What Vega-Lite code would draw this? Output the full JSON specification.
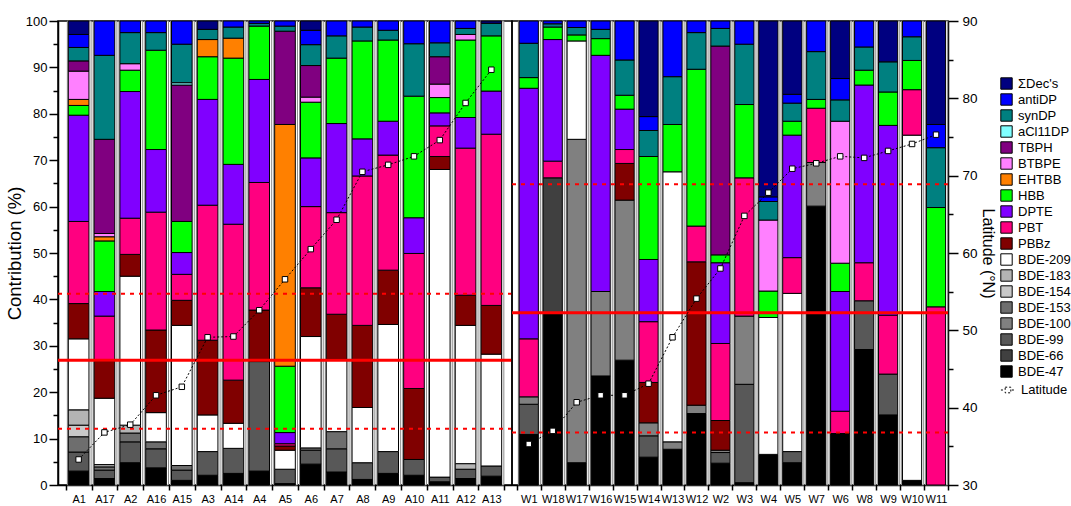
{
"$schema": "https://vega.github.io/schema/vega-lite/v6.json",
"padding": {"left": 4, "top": 13, "right": 0, "bottom": 0},
"background": "white",
"spacing": 0,
"bounds": "flush",
"config": {
 "font": "Liberation Sans",
 "view": {"stroke": "black", "strokeWidth": 1.5},
 "axis": {"domainColor": "black", "domainWidth": 1.5, "tickColor": "black", "tickWidth": 1.5, "labelColor": "black", "titleColor": "black", "grid": false, "titleFontWeight": "normal", "labelOverlap": false, "labelFlush": false},
 "legend": {"labelFontSize": 13, "labelColor": "black", "symbolStrokeColor": "black", "symbolStrokeWidth": 1, "symbolSize": 130, "rowPadding": -1, "padding": 0, "labelOffset": 5}
},
"datasets": {
 "comps": [
  {"c":"BDE-47","rank":1},{"c":"BDE-66","rank":2},{"c":"BDE-99","rank":3},{"c":"BDE-100","rank":4},{"c":"BDE-153","rank":5},{"c":"BDE-154","rank":6},{"c":"BDE-183","rank":7},{"c":"BDE-209","rank":8},{"c":"PBBz","rank":9},{"c":"PBT","rank":10},{"c":"DPTE","rank":11},{"c":"HBB","rank":12},{"c":"EHTBB","rank":13},{"c":"BTBPE","rank":14},{"c":"TBPH","rank":15},{"c":"aCl11DP","rank":16},{"c":"synDP","rank":17},{"c":"antiDP","rank":18},{"c":"ΣDec's","rank":19}
 ],
 "ref": [
  {"g":"A","t":"solid","v":26.9},{"g":"A","t":"dotted","v":41.2},{"g":"A","t":"dotted","v":12.1},
  {"g":"W","t":"solid","v":37.1},{"g":"W","t":"dotted","v":64.8},{"g":"W","t":"dotted","v":11.3}
 ],
 "lat": [
  {"g":"A","s":"A1","lat":33.3},{"g":"A","s":"A17","lat":36.8},{"g":"A","s":"A2","lat":37.8},{"g":"A","s":"A16","lat":41.6},{"g":"A","s":"A15","lat":42.7},{"g":"A","s":"A3","lat":49.1},{"g":"A","s":"A14","lat":49.2},{"g":"A","s":"A4","lat":52.6},{"g":"A","s":"A5","lat":56.6},{"g":"A","s":"A6","lat":60.5},{"g":"A","s":"A7","lat":64.3},{"g":"A","s":"A8","lat":70.5},{"g":"A","s":"A9","lat":71.4},{"g":"A","s":"A10","lat":72.5},{"g":"A","s":"A11","lat":74.6},{"g":"A","s":"A12","lat":79.4},{"g":"A","s":"A13","lat":83.7},
  {"g":"W","s":"W1","lat":35.3},{"g":"W","s":"W18","lat":37.0},{"g":"W","s":"W17","lat":40.7},{"g":"W","s":"W16","lat":41.6},{"g":"W","s":"W15","lat":41.6},{"g":"W","s":"W14","lat":43.1},{"g":"W","s":"W13","lat":49.1},{"g":"W","s":"W12","lat":54.1},{"g":"W","s":"W2","lat":58.0},{"g":"W","s":"W3","lat":64.8},{"g":"W","s":"W4","lat":67.8},{"g":"W","s":"W5","lat":70.9},{"g":"W","s":"W7","lat":71.6},{"g":"W","s":"W6","lat":72.5},{"g":"W","s":"W8","lat":72.3},{"g":"W","s":"W9","lat":73.2},{"g":"W","s":"W10","lat":74.1},{"g":"W","s":"W11","lat":75.3}
 ],
 "bars": [
  {"s":"A1","c":"BDE-47","v":3.0},{"s":"A1","c":"BDE-99","v":4.1},{"s":"A1","c":"BDE-153","v":3.3},{"s":"A1","c":"BDE-154","v":2.5},{"s":"A1","c":"BDE-183","v":3.3},{"s":"A1","c":"BDE-209","v":15.3},{"s":"A1","c":"PBBz","v":7.6},{"s":"A1","c":"PBT","v":17.7},{"s":"A1","c":"DPTE","v":22.9},{"s":"A1","c":"HBB","v":2.1},{"s":"A1","c":"EHTBB","v":1.3},{"s":"A1","c":"BTBPE","v":6.1},{"s":"A1","c":"TBPH","v":2.2},{"s":"A1","c":"synDP","v":2.9},{"s":"A1","c":"antiDP","v":2.8},{"s":"A1","c":"ΣDec's","v":2.9},
  {"s":"A17","c":"BDE-47","v":1.4},{"s":"A17","c":"BDE-99","v":1.8},{"s":"A17","c":"BDE-153","v":0.7},{"s":"A17","c":"BDE-183","v":0.5},{"s":"A17","c":"BDE-209","v":14.3},{"s":"A17","c":"PBBz","v":8.0},{"s":"A17","c":"PBT","v":9.7},{"s":"A17","c":"DPTE","v":5.3},{"s":"A17","c":"HBB","v":10.9},{"s":"A17","c":"EHTBB","v":0.9},{"s":"A17","c":"BTBPE","v":0.7},{"s":"A17","c":"TBPH","v":20.3},{"s":"A17","c":"synDP","v":18.1},{"s":"A17","c":"antiDP","v":7.4},
  {"s":"A2","c":"BDE-47","v":4.8},{"s":"A2","c":"BDE-99","v":4.5},{"s":"A2","c":"BDE-153","v":1.9},{"s":"A2","c":"BDE-183","v":1.7},{"s":"A2","c":"BDE-209","v":32.1},{"s":"A2","c":"PBBz","v":4.7},{"s":"A2","c":"PBT","v":7.8},{"s":"A2","c":"DPTE","v":27.3},{"s":"A2","c":"HBB","v":4.6},{"s":"A2","c":"BTBPE","v":1.4},{"s":"A2","c":"synDP","v":6.7},{"s":"A2","c":"antiDP","v":2.5},
  {"s":"A16","c":"BDE-47","v":3.7},{"s":"A16","c":"BDE-99","v":4.1},{"s":"A16","c":"BDE-153","v":1.5},{"s":"A16","c":"BDE-209","v":6.3},{"s":"A16","c":"PBBz","v":17.8},{"s":"A16","c":"PBT","v":25.4},{"s":"A16","c":"DPTE","v":13.5},{"s":"A16","c":"HBB","v":21.4},{"s":"A16","c":"synDP","v":3.8},{"s":"A16","c":"antiDP","v":2.5},
  {"s":"A15","c":"BDE-47","v":1.0},{"s":"A15","c":"BDE-99","v":2.2},{"s":"A15","c":"BDE-153","v":1.0},{"s":"A15","c":"BDE-209","v":30.2},{"s":"A15","c":"PBBz","v":5.4},{"s":"A15","c":"PBT","v":5.6},{"s":"A15","c":"DPTE","v":4.7},{"s":"A15","c":"HBB","v":6.7},{"s":"A15","c":"TBPH","v":29.4},{"s":"A15","c":"aCl11DP","v":0.5},{"s":"A15","c":"synDP","v":8.3},{"s":"A15","c":"antiDP","v":5.0},
  {"s":"A3","c":"BDE-47","v":2.1},{"s":"A3","c":"BDE-99","v":5.1},{"s":"A3","c":"BDE-209","v":7.9},{"s":"A3","c":"PBBz","v":16.1},{"s":"A3","c":"PBT","v":29.1},{"s":"A3","c":"DPTE","v":22.8},{"s":"A3","c":"HBB","v":9.2},{"s":"A3","c":"EHTBB","v":3.7},{"s":"A3","c":"synDP","v":2.2},{"s":"A3","c":"ΣDec's","v":1.8},
  {"s":"A14","c":"BDE-47","v":2.5},{"s":"A14","c":"BDE-99","v":5.4},{"s":"A14","c":"BDE-209","v":5.4},{"s":"A14","c":"PBBz","v":9.3},{"s":"A14","c":"PBT","v":33.6},{"s":"A14","c":"DPTE","v":12.9},{"s":"A14","c":"HBB","v":22.9},{"s":"A14","c":"EHTBB","v":4.3},{"s":"A14","c":"synDP","v":2.4},{"s":"A14","c":"antiDP","v":1.3},
  {"s":"A4","c":"BDE-47","v":3.0},{"s":"A4","c":"BDE-99","v":23.6},{"s":"A4","c":"PBBz","v":11.1},{"s":"A4","c":"PBT","v":27.5},{"s":"A4","c":"DPTE","v":22.2},{"s":"A4","c":"HBB","v":11.5},{"s":"A4","c":"synDP","v":0.6},{"s":"A4","c":"antiDP","v":0.5},
  {"s":"A5","c":"BDE-47","v":0.3},{"s":"A5","c":"BDE-99","v":3.1},{"s":"A5","c":"BDE-209","v":4.1},{"s":"A5","c":"PBBz","v":0.9},{"s":"A5","c":"PBT","v":0.5},{"s":"A5","c":"DPTE","v":2.4},{"s":"A5","c":"HBB","v":14.3},{"s":"A5","c":"EHTBB","v":52.1},{"s":"A5","c":"TBPH","v":20.1},{"s":"A5","c":"synDP","v":1.1},{"s":"A5","c":"antiDP","v":1.1},
  {"s":"A6","c":"BDE-47","v":4.5},{"s":"A6","c":"BDE-99","v":3.0},{"s":"A6","c":"BDE-153","v":0.5},{"s":"A6","c":"BDE-209","v":24.0},{"s":"A6","c":"PBBz","v":10.5},{"s":"A6","c":"PBT","v":17.5},{"s":"A6","c":"DPTE","v":10.5},{"s":"A6","c":"HBB","v":12.0},{"s":"A6","c":"BTBPE","v":1.1},{"s":"A6","c":"TBPH","v":6.8},{"s":"A6","c":"synDP","v":4.5},{"s":"A6","c":"antiDP","v":3.1},{"s":"A6","c":"ΣDec's","v":2.0},
  {"s":"A7","c":"BDE-47","v":2.8},{"s":"A7","c":"BDE-99","v":5.0},{"s":"A7","c":"BDE-153","v":3.7},{"s":"A7","c":"BDE-209","v":15.6},{"s":"A7","c":"PBBz","v":9.7},{"s":"A7","c":"PBT","v":21.9},{"s":"A7","c":"DPTE","v":19.2},{"s":"A7","c":"HBB","v":14.1},{"s":"A7","c":"synDP","v":4.8},{"s":"A7","c":"antiDP","v":3.2},
  {"s":"A8","c":"BDE-47","v":1.2},{"s":"A8","c":"BDE-99","v":3.6},{"s":"A8","c":"BDE-209","v":11.9},{"s":"A8","c":"PBBz","v":17.7},{"s":"A8","c":"PBT","v":32.2},{"s":"A8","c":"DPTE","v":8.0},{"s":"A8","c":"HBB","v":21.1},{"s":"A8","c":"synDP","v":3.0},{"s":"A8","c":"antiDP","v":1.3},
  {"s":"A9","c":"BDE-47","v":2.5},{"s":"A9","c":"BDE-99","v":4.7},{"s":"A9","c":"BDE-209","v":27.4},{"s":"A9","c":"PBBz","v":11.7},{"s":"A9","c":"PBT","v":24.8},{"s":"A9","c":"DPTE","v":7.3},{"s":"A9","c":"HBB","v":17.5},{"s":"A9","c":"synDP","v":2.1},{"s":"A9","c":"antiDP","v":2.0},
  {"s":"A10","c":"BDE-47","v":2.1},{"s":"A10","c":"BDE-99","v":3.4},{"s":"A10","c":"PBBz","v":15.3},{"s":"A10","c":"PBT","v":29.1},{"s":"A10","c":"DPTE","v":7.7},{"s":"A10","c":"HBB","v":26.2},{"s":"A10","c":"synDP","v":11.3},{"s":"A10","c":"antiDP","v":4.9},
  {"s":"A11","c":"BDE-47","v":0.7},{"s":"A11","c":"BDE-99","v":1.0},{"s":"A11","c":"BDE-209","v":66.3},{"s":"A11","c":"PBBz","v":2.8},{"s":"A11","c":"PBT","v":6.6},{"s":"A11","c":"DPTE","v":2.8},{"s":"A11","c":"HBB","v":3.3},{"s":"A11","c":"BTBPE","v":2.9},{"s":"A11","c":"TBPH","v":5.9},{"s":"A11","c":"synDP","v":3.0},{"s":"A11","c":"antiDP","v":4.7},
  {"s":"A12","c":"BDE-47","v":1.4},{"s":"A12","c":"BDE-99","v":2.0},{"s":"A12","c":"BDE-183","v":1.2},{"s":"A12","c":"BDE-209","v":29.8},{"s":"A12","c":"PBBz","v":6.5},{"s":"A12","c":"PBT","v":31.7},{"s":"A12","c":"DPTE","v":6.6},{"s":"A12","c":"HBB","v":16.7},{"s":"A12","c":"BTBPE","v":1.2},{"s":"A12","c":"synDP","v":1.3},{"s":"A12","c":"antiDP","v":1.6},
  {"s":"A13","c":"BDE-47","v":1.9},{"s":"A13","c":"BDE-99","v":2.2},{"s":"A13","c":"BDE-209","v":24.1},{"s":"A13","c":"PBBz","v":10.5},{"s":"A13","c":"PBT","v":36.9},{"s":"A13","c":"DPTE","v":9.3},{"s":"A13","c":"HBB","v":11.9},{"s":"A13","c":"synDP","v":2.7},{"s":"A13","c":"ΣDec's","v":0.5},
  {"s":"W1","c":"BDE-47","v":10.9},{"s":"W1","c":"BDE-99","v":6.5},{"s":"W1","c":"BDE-100","v":1.6},{"s":"W1","c":"PBT","v":12.5},{"s":"W1","c":"DPTE","v":54.0},{"s":"W1","c":"HBB","v":2.3},{"s":"W1","c":"synDP","v":7.4},{"s":"W1","c":"antiDP","v":4.8},
  {"s":"W18","c":"BDE-47","v":37.1},{"s":"W18","c":"BDE-66","v":29.1},{"s":"W18","c":"PBT","v":3.6},{"s":"W18","c":"DPTE","v":26.2},{"s":"W18","c":"HBB","v":2.7},{"s":"W18","c":"synDP","v":0.7},{"s":"W18","c":"antiDP","v":0.6},
  {"s":"W17","c":"BDE-47","v":4.8},{"s":"W17","c":"BDE-100","v":69.7},{"s":"W17","c":"BDE-209","v":21.2},{"s":"W17","c":"HBB","v":1.3},{"s":"W17","c":"synDP","v":1.6},{"s":"W17","c":"antiDP","v":1.4},
  {"s":"W16","c":"BDE-47","v":23.5},{"s":"W16","c":"BDE-100","v":18.2},{"s":"W16","c":"DPTE","v":50.9},{"s":"W16","c":"HBB","v":3.6},{"s":"W16","c":"synDP","v":2.0},{"s":"W16","c":"antiDP","v":1.8},
  {"s":"W15","c":"BDE-47","v":26.9},{"s":"W15","c":"BDE-100","v":34.5},{"s":"W15","c":"PBBz","v":7.9},{"s":"W15","c":"PBT","v":3.0},{"s":"W15","c":"DPTE","v":8.7},{"s":"W15","c":"HBB","v":3.0},{"s":"W15","c":"synDP","v":7.6},{"s":"W15","c":"antiDP","v":8.4},
  {"s":"W14","c":"BDE-47","v":6.0},{"s":"W14","c":"BDE-99","v":4.6},{"s":"W14","c":"BDE-100","v":2.8},{"s":"W14","c":"PBBz","v":8.7},{"s":"W14","c":"PBT","v":13.1},{"s":"W14","c":"DPTE","v":13.4},{"s":"W14","c":"HBB","v":22.2},{"s":"W14","c":"synDP","v":5.6},{"s":"W14","c":"antiDP","v":3.0},{"s":"W14","c":"ΣDec's","v":20.6},
  {"s":"W13","c":"BDE-47","v":7.7},{"s":"W13","c":"BDE-100","v":1.6},{"s":"W13","c":"BDE-209","v":58.2},{"s":"W13","c":"HBB","v":10.2},{"s":"W13","c":"synDP","v":10.3},{"s":"W13","c":"antiDP","v":12.0},
  {"s":"W12","c":"BDE-47","v":15.4},{"s":"W12","c":"BDE-100","v":1.8},{"s":"W12","c":"PBBz","v":30.9},{"s":"W12","c":"PBT","v":7.7},{"s":"W12","c":"HBB","v":33.8},{"s":"W12","c":"synDP","v":7.9},{"s":"W12","c":"antiDP","v":2.5},
  {"s":"W2","c":"BDE-47","v":4.7},{"s":"W2","c":"BDE-99","v":2.3},{"s":"W2","c":"BDE-100","v":0.5},{"s":"W2","c":"PBBz","v":6.4},{"s":"W2","c":"PBT","v":16.6},{"s":"W2","c":"DPTE","v":17.4},{"s":"W2","c":"HBB","v":1.7},{"s":"W2","c":"TBPH","v":45.0},{"s":"W2","c":"synDP","v":3.8},{"s":"W2","c":"antiDP","v":1.6},
  {"s":"W3","c":"BDE-47","v":0.5},{"s":"W3","c":"BDE-99","v":21.2},{"s":"W3","c":"BDE-100","v":14.7},{"s":"W3","c":"PBT","v":29.8},{"s":"W3","c":"HBB","v":15.8},{"s":"W3","c":"synDP","v":13.0},{"s":"W3","c":"antiDP","v":5.0},
  {"s":"W4","c":"BDE-47","v":6.6},{"s":"W4","c":"BDE-209","v":29.5},{"s":"W4","c":"HBB","v":5.7},{"s":"W4","c":"BTBPE","v":15.3},{"s":"W4","c":"synDP","v":4.0},{"s":"W4","c":"antiDP","v":1.0},{"s":"W4","c":"ΣDec's","v":37.9},
  {"s":"W5","c":"BDE-47","v":4.8},{"s":"W5","c":"BDE-99","v":2.4},{"s":"W5","c":"BDE-209","v":34.1},{"s":"W5","c":"PBT","v":7.7},{"s":"W5","c":"DPTE","v":26.4},{"s":"W5","c":"HBB","v":3.0},{"s":"W5","c":"synDP","v":3.9},{"s":"W5","c":"antiDP","v":1.9},{"s":"W5","c":"ΣDec's","v":15.8},
  {"s":"W7","c":"BDE-47","v":60.1},{"s":"W7","c":"BDE-100","v":9.4},{"s":"W7","c":"PBT","v":11.7},{"s":"W7","c":"HBB","v":1.9},{"s":"W7","c":"synDP","v":10.3},{"s":"W7","c":"antiDP","v":6.6},
  {"s":"W6","c":"BDE-47","v":11.1},{"s":"W6","c":"PBT","v":4.8},{"s":"W6","c":"DPTE","v":25.8},{"s":"W6","c":"HBB","v":6.1},{"s":"W6","c":"BTBPE","v":30.6},{"s":"W6","c":"synDP","v":4.6},{"s":"W6","c":"antiDP","v":4.6},{"s":"W6","c":"ΣDec's","v":12.4},
  {"s":"W8","c":"BDE-47","v":29.2},{"s":"W8","c":"BDE-99","v":10.5},{"s":"W8","c":"PBT","v":8.2},{"s":"W8","c":"DPTE","v":38.3},{"s":"W8","c":"HBB","v":3.2},{"s":"W8","c":"synDP","v":5.0},{"s":"W8","c":"antiDP","v":5.6},
  {"s":"W9","c":"BDE-47","v":15.1},{"s":"W9","c":"BDE-99","v":8.8},{"s":"W9","c":"PBT","v":12.7},{"s":"W9","c":"DPTE","v":40.9},{"s":"W9","c":"HBB","v":7.2},{"s":"W9","c":"synDP","v":6.5},{"s":"W9","c":"ΣDec's","v":8.8},
  {"s":"W10","c":"BDE-47","v":1.0},{"s":"W10","c":"BDE-209","v":74.4},{"s":"W10","c":"PBT","v":9.8},{"s":"W10","c":"HBB","v":6.3},{"s":"W10","c":"synDP","v":5.1},{"s":"W10","c":"antiDP","v":3.4},
  {"s":"W11","c":"PBT","v":38.4},{"s":"W11","c":"HBB","v":21.4},{"s":"W11","c":"synDP","v":12.9},{"s":"W11","c":"antiDP","v":5.0},{"s":"W11","c":"ΣDec's","v":22.3}
 ]
},
"hconcat": [
 {
  "width": 454, "height": 464,
  "layer": [
   {"data": {"name": "lat"}, "transform": [{"filter": "datum.g === 'A'"}],
    "mark": {"type": "bar", "width": {"band": 0.92}, "xOffset": 0.6, "fill": "white", "stroke": "#8c8c8c", "strokeWidth": 1},
    "encoding": {
     "x": {"field": "s", "type": "nominal", "scale": {"domain": ["A1","A17","A2","A16","A15","A3","A14","A4","A5","A6","A7","A8","A9","A10","A11","A12","A13"], "paddingInner": 0, "paddingOuter": 0.3}, "axis": {"title": null, "labelAngle": 0, "labelFontSize": 11, "tickBand": "extent", "tickSize": 5, "labelPadding": 3}},
     "y": {"datum": 100, "type": "quantitative", "scale": {"domain": [0, 100]}, "axis": null}}},
   {"data": {"name": "bars"}, "transform": [{"filter": "indexof(datum.s, 'A') === 0"}, {"lookup": "c", "from": {"data": {"name": "comps"}, "key": "c", "fields": ["rank"]}}],
    "mark": {"type": "bar", "width": {"band": 0.8}, "stroke": "black", "strokeWidth": 1},
    "encoding": {
     "x": {"field": "s", "type": "nominal", "scale": {"domain": ["A1","A17","A2","A16","A15","A3","A14","A4","A5","A6","A7","A8","A9","A10","A11","A12","A13"], "paddingInner": 0, "paddingOuter": 0.3}, "axis": {"title": null, "labelAngle": 0, "labelFontSize": 11, "tickBand": "extent", "tickSize": 5, "labelPadding": 3}},
     "y": {"field": "v", "type": "quantitative", "stack": "zero", "scale": {"domain": [0, 100]},
       "axis": {"orient": "left", "title": "Contribution (%)", "titleFontSize": 18.5, "titlePadding": 1, "values": [0,10,20,30,40,50,60,70,80,90,100], "tickSize": 9, "labelFontSize": 13, "labelPadding": 2}},
     "order": {"field": "rank", "type": "quantitative"},
     "color": {"field": "c", "type": "nominal",
      "scale": {"domain": ["ΣDec's","antiDP","synDP","aCl11DP","TBPH","BTBPE","EHTBB","HBB","DPTE","PBT","PBBz","BDE-209","BDE-183","BDE-154","BDE-153","BDE-100","BDE-99","BDE-66","BDE-47"],
                "range": ["#000080","#0000ff","#008080","#80ffff","#800080","#ff80ff","#ff8000","#00ff00","#8000ff","#ff0080","#800000","#ffffff","#b4b4b4","#c8c8c8","#6e6e6e","#808080","#585858","#404040","#000000"]},
      "legend": {"title": null, "orient": "none", "legendX": 942, "legendY": 56, "symbolType": "square"}}
    }},
   {"data": {"name": "ref"}, "transform": [{"filter": "datum.g === 'A' && datum.t === 'solid'"}],
    "mark": {"type": "rule", "color": "#ff0000", "strokeWidth": 3},
    "encoding": {"y": {"field": "v", "type": "quantitative", "scale": {"domain": [0, 100]},
       "axis": {"orient": "left", "title": null, "values": [5,15,25,35,45,55,65,75,85,95], "labels": false, "domain": false, "tickSize": 5}}}},
   {"data": {"name": "ref"}, "transform": [{"filter": "datum.g === 'A' && datum.t === 'dotted'"}],
    "mark": {"type": "rule", "color": "#ff0000", "strokeWidth": 2, "strokeDash": [4, 5]},
    "encoding": {"y": {"field": "v", "type": "quantitative", "scale": {"domain": [0, 100]}, "axis": null}}},
   {"data": {"name": "lat"}, "transform": [{"filter": "datum.g === 'A'"}],
    "mark": {"type": "line", "color": "black", "strokeWidth": 1},
    "encoding": {
     "x": {"field": "s", "type": "nominal", "scale": {"domain": ["A1","A17","A2","A16","A15","A3","A14","A4","A5","A6","A7","A8","A9","A10","A11","A12","A13"], "paddingInner": 0, "paddingOuter": 0.3}, "axis": {"title": null, "labelAngle": 0, "labelFontSize": 11, "tickBand": "extent", "tickSize": 5, "labelPadding": 3}},
     "y": {"field": "lat", "type": "quantitative", "scale": {"domain": [30, 90]}, "axis": null},
     "strokeDash": {"datum": "Latitude", "scale": {"domain": ["Latitude"], "range": [[2, 2]]}, "legend": {"title": null, "orient": "none", "legendX": 942, "legendY": 361, "symbolSize": 200, "symbolType": "M-1,0H-0.55M-0.4,-0.4H0.4V0.4H-0.4ZM0.55,0H1", "symbolStrokeColor": "black", "symbolStrokeWidth": 1}}}},
   {"data": {"name": "lat"}, "transform": [{"filter": "datum.g === 'A'"}],
    "mark": {"type": "point", "shape": "square", "filled": true, "fill": "white", "stroke": "black", "strokeWidth": 1, "size": 30, "opacity": 1},
    "encoding": {
     "x": {"field": "s", "type": "nominal", "scale": {"domain": ["A1","A17","A2","A16","A15","A3","A14","A4","A5","A6","A7","A8","A9","A10","A11","A12","A13"], "paddingInner": 0, "paddingOuter": 0.3}, "axis": {"title": null, "labelAngle": 0, "labelFontSize": 11, "tickBand": "extent", "tickSize": 5, "labelPadding": 3}},
     "y": {"field": "lat", "type": "quantitative", "scale": {"domain": [30, 90]}, "axis": null}}}
  ],
  "resolve": {"scale": {"y": "independent"}}
 },
 {
  "width": 436, "height": 464,
  "layer": [
   {"data": {"name": "lat"}, "transform": [{"filter": "datum.g === 'W'"}],
    "mark": {"type": "bar", "width": {"band": 0.92}, "xOffset": 0.6, "fill": "white", "stroke": "#8c8c8c", "strokeWidth": 1},
    "encoding": {
     "x": {"field": "s", "type": "nominal", "scale": {"domain": ["W1","W18","W17","W16","W15","W14","W13","W12","W2","W3","W4","W5","W7","W6","W8","W9","W10","W11"], "paddingInner": 0, "paddingOuter": 0.1, "align": 1}, "axis": {"title": null, "labelAngle": 0, "labelFontSize": 11, "tickBand": "extent", "tickSize": 5, "labelPadding": 3}},
     "y": {"datum": 100, "type": "quantitative", "scale": {"domain": [0, 100]}, "axis": null}}},
   {"data": {"name": "bars"}, "transform": [{"filter": "indexof(datum.s, 'W') === 0"}, {"lookup": "c", "from": {"data": {"name": "comps"}, "key": "c", "fields": ["rank"]}}],
    "mark": {"type": "bar", "width": {"band": 0.8}, "stroke": "black", "strokeWidth": 1},
    "encoding": {
     "x": {"field": "s", "type": "nominal", "scale": {"domain": ["W1","W18","W17","W16","W15","W14","W13","W12","W2","W3","W4","W5","W7","W6","W8","W9","W10","W11"], "paddingInner": 0, "paddingOuter": 0.1, "align": 1}, "axis": {"title": null, "labelAngle": 0, "labelFontSize": 11, "tickBand": "extent", "tickSize": 5, "labelPadding": 3}},
     "y": {"field": "v", "type": "quantitative", "stack": "zero", "scale": {"domain": [0, 100]}, "axis": null},
     "order": {"field": "rank", "type": "quantitative"},
     "color": {"field": "c", "type": "nominal",
      "scale": {"domain": ["ΣDec's","antiDP","synDP","aCl11DP","TBPH","BTBPE","EHTBB","HBB","DPTE","PBT","PBBz","BDE-209","BDE-183","BDE-154","BDE-153","BDE-100","BDE-99","BDE-66","BDE-47"],
                "range": ["#000080","#0000ff","#008080","#80ffff","#800080","#ff80ff","#ff8000","#00ff00","#8000ff","#ff0080","#800000","#ffffff","#b4b4b4","#c8c8c8","#6e6e6e","#808080","#585858","#404040","#000000"]},
      "legend": {"title": null, "orient": "none", "legendX": 942, "legendY": 56, "symbolType": "square"}}
    }},
   {"data": {"name": "ref"}, "transform": [{"filter": "datum.g === 'W' && datum.t === 'solid'"}],
    "mark": {"type": "rule", "color": "#ff0000", "strokeWidth": 3},
    "encoding": {"y": {"field": "v", "type": "quantitative", "scale": {"domain": [0, 100]}, "axis": null}}},
   {"data": {"name": "ref"}, "transform": [{"filter": "datum.g === 'W' && datum.t === 'dotted'"}],
    "mark": {"type": "rule", "color": "#ff0000", "strokeWidth": 2, "strokeDash": [4, 5]},
    "encoding": {"y": {"field": "v", "type": "quantitative", "scale": {"domain": [0, 100]}, "axis": null}}},
   {"data": {"name": "lat"}, "transform": [{"filter": "datum.g === 'W'"}],
    "mark": {"type": "line", "color": "black", "strokeWidth": 1},
    "encoding": {
     "x": {"field": "s", "type": "nominal", "scale": {"domain": ["W1","W18","W17","W16","W15","W14","W13","W12","W2","W3","W4","W5","W7","W6","W8","W9","W10","W11"], "paddingInner": 0, "paddingOuter": 0.1, "align": 1}, "axis": {"title": null, "labelAngle": 0, "labelFontSize": 11, "tickBand": "extent", "tickSize": 5, "labelPadding": 3}},
     "y": {"field": "lat", "type": "quantitative", "scale": {"domain": [30, 90]},
       "axis": {"orient": "right", "title": "Latitude (°N)", "titleFontSize": 16, "titlePadding": 2, "values": [30,35,40,45,50,55,60,65,70,75,80,85,90], "labelExpr": "datum.value % 10 === 0 ? datum.label : ''", "tickSize": {"condition": {"test": "datum.value % 10 === 0", "value": 10}, "value": 5}, "labelFontSize": 13.5, "labelPadding": 4}},
     "strokeDash": {"datum": "Latitude", "scale": {"domain": ["Latitude"], "range": [[2, 2]]}, "legend": {"title": null, "orient": "none", "legendX": 942, "legendY": 361, "symbolSize": 200, "symbolType": "M-1,0H-0.55M-0.4,-0.4H0.4V0.4H-0.4ZM0.55,0H1", "symbolStrokeColor": "black", "symbolStrokeWidth": 1}}}},
   {"data": {"name": "lat"}, "transform": [{"filter": "datum.g === 'W'"}],
    "mark": {"type": "point", "shape": "square", "filled": true, "fill": "white", "stroke": "black", "strokeWidth": 1, "size": 30, "opacity": 1},
    "encoding": {
     "x": {"field": "s", "type": "nominal", "scale": {"domain": ["W1","W18","W17","W16","W15","W14","W13","W12","W2","W3","W4","W5","W7","W6","W8","W9","W10","W11"], "paddingInner": 0, "paddingOuter": 0.1, "align": 1}, "axis": {"title": null, "labelAngle": 0, "labelFontSize": 11, "tickBand": "extent", "tickSize": 5, "labelPadding": 3}},
     "y": {"field": "lat", "type": "quantitative", "scale": {"domain": [30, 90]}, "axis": null}}}
  ],
  "resolve": {"scale": {"y": "independent"}}
 }
]
}
